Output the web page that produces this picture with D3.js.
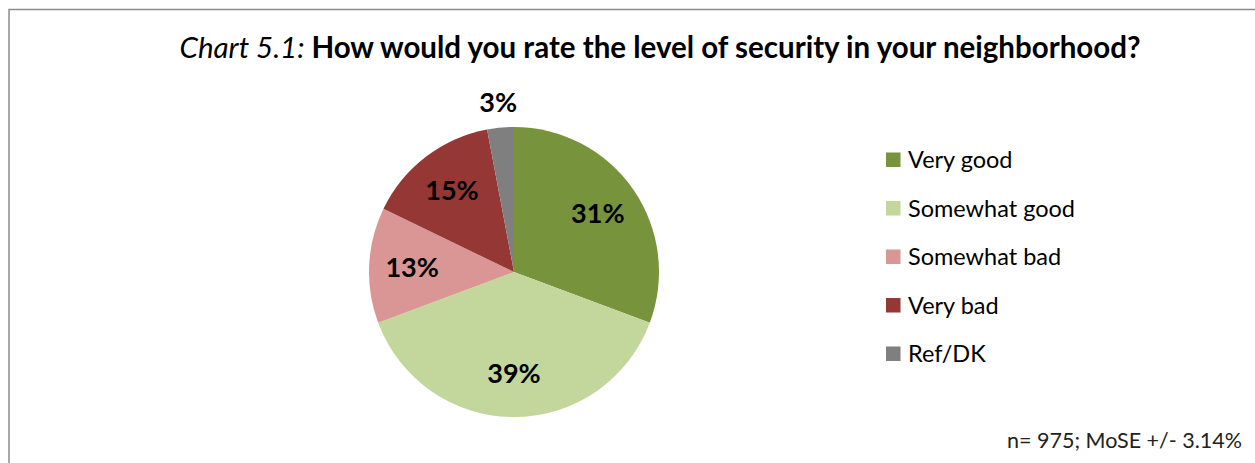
<!DOCTYPE html>
<html>
<head>
<meta charset="utf-8">
<script src="https://cdn.jsdelivr.net/npm/d3@7"></script>
<style>
  body { margin: 0; background: #fff; }
  svg text { font-family: Lato, "Open Sans", sans-serif; }
</style>
</head>
<body>
<svg id="graphPie" width="1255" height="463"></svg>
<script>
// data
var categories = ["Very good", "Somewhat good", "Somewhat bad", "Very bad", "Ref/DK"];
var values = [31, 39, 13, 15, 3];
var colors = ["#77933C", "#C3D69B", "#D99694", "#953735", "#7F7F7F"];
var footnote = "n= 975; MoSE +/- 3.14%";

var svg = d3.select("#graphPie"),
    width = +svg.attr("width"),
    height = +svg.attr("height");

// chart frame
svg.append("rect")
    .attr("x", 9).attr("y", 9.5)
    .attr("width", width + 20).attr("height", height + 20)
    .attr("fill", "none")
    .attr("stroke", "#8c8c8c")
    .attr("stroke-width", 1.5);

// title
var title = svg.append("text")
    .attr("x", 660).attr("y", 58)
    .attr("text-anchor", "middle")
    .style("font-size", "29.5px")
    .attr("fill", "#000");
title.append("tspan").style("font-style", "italic").text("Chart 5.1: ");
title.append("tspan").style("font-weight", "bold").text("How would you rate the level of security in your neighborhood?");

var radius = 145,
    g = svg.append("g").attr("transform", "translate(514,272)");

var color = d3.scaleOrdinal(categories, colors);

var data = categories.map(function (c, i) { return { name: c, value: values[i] }; });

var pie = d3.pie()
    .sort(null)
    .value(function (d) { return d.value; });

var path = d3.arc()
    .outerRadius(radius)
    .innerRadius(0);

var labelIn = d3.arc().outerRadius(102).innerRadius(102);
var labelOut = d3.arc().outerRadius(170).innerRadius(170);

var arc = g.selectAll(".arc")
    .data(pie(data))
    .enter().append("g")
    .attr("class", "arc");

arc.append("path")
    .attr("d", path)
    .attr("fill", function (d) { return color(d.data.name); });

// labels: small slices go outside
arc.append("text")
    .attr("transform", function (d) {
        var a = d.data.value < 5 ? labelOut : labelIn;
        return "translate(" + a.centroid(d) + ")";
    })
    .attr("dy", "0.35em")
    .attr("text-anchor", "middle")
    .style("font-size", "27px")
    .style("font-weight", "bold")
    .text(function (d) { return d.data.value + "%"; });

// legend
var legend = svg.append("g").attr("transform", "translate(886,160)");
var item = legend.selectAll(".item")
    .data(categories)
    .enter().append("g")
    .attr("class", "item")
    .attr("transform", function (d, i) { return "translate(0," + i * 48.5 + ")"; });

item.append("rect")
    .attr("x", 0).attr("y", -7.5)
    .attr("width", 14.5).attr("height", 14.5)
    .attr("fill", function (d) { return color(d); });

item.append("text")
    .attr("x", 22).attr("y", 0)
    .attr("dy", "0.35em")
    .style("font-size", "23.5px")
    .attr("fill", "#000")
    .text(function (d) { return d; });

// footnote
svg.append("text")
    .attr("x", 1242).attr("y", 448)
    .attr("text-anchor", "end")
    .style("font-size", "21.5px")
    .attr("fill", "#222")
    .text(footnote);
</script>
</body>
</html>
